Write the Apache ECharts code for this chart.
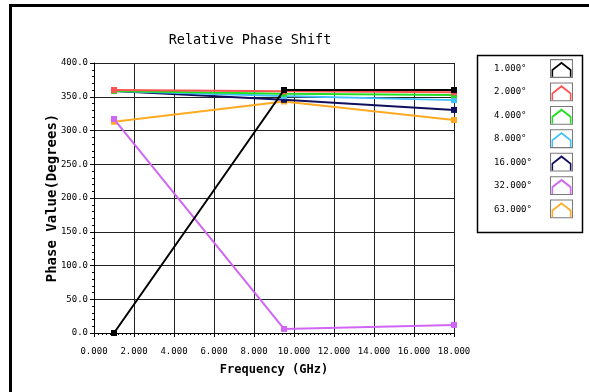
<!DOCTYPE html>
<html>
<head>
<meta charset="utf-8">
<script src="https://cdn.jsdelivr.net/npm/echarts@6/dist/echarts.min.js"></script>
<style>
  html, body { margin: 0; padding: 0; background: #fff; }
  #chart { width: 589px; height: 392px; }
</style>
</head>
<body>
<div id="chart"></div>
<script>
// frequencies where each trace was sampled (GHz)
const freqs = [1, 9.5, 18];
const seriesNames = ['1.000°', '2.000°', '4.000°', '8.000°', '16.000°', '32.000°', '63.000°'];
const seriesColors = ['#000000', '#ff5252', '#22e022', '#40c0ff', '#10105e', '#cf66f5', '#ffaa22'];
const phase1 = [0, 360, 360];
const phase2 = [360, 358, 356.5];
const phase4 = [358.5, 354.5, 352.5];
const phase8 = [358.5, 351, 345];
const phase16 = [358.5, 345.5, 330.5];
const phase32 = [317, 6, 12];
const phase63 = [313, 343, 315.5];
const allPhases = [phase1, phase2, phase4, phase8, phase16, phase32, phase63];
// drawing order: black on top, then red, the rest below
const seriesZ = [9, 8, 7, 6, 5, 4, 3];

const FONT = 'DejaVu Sans Mono';
// chevron inside a 22x18 cell; the two tiny specks at the corners keep the cell size
const chevron = 'path://M0,0 L0.01,0 L0.01,0.01 Z M22,18 L21.99,18 L21.99,17.99 Z ' +
  'M1.5,17 L1.5,10 L11,2.5 L20.5,10 L20.5,17 L19,17 L19,11 L11,4.8 L3,11 L3,17 Z';
// square outline (outer ring minus inner hole) for the grey icon frames
const frame = 'path://M0,0 L22,0 L22,18 L0,18 Z M1,1 L1,17 L21,17 L21,1 Z';

const chart = echarts.init(document.getElementById('chart'));

const series = seriesNames.map((name, i) => ({
  name: name,
  type: 'line',
  z: seriesZ[i],
  data: freqs.map((f, j) => [f, allPhases[i][j]]),
  symbol: 'rect',
  symbolSize: 6,
  showSymbol: true,
  lineStyle: { width: 2, color: seriesColors[i] },
  itemStyle: { color: seriesColors[i] },
  emphasis: { disabled: true }
}));

const legendCommon = {
  orient: 'vertical',
  top: 59,
  padding: 0,
  itemHeight: 19,
  itemGap: 4.5,
  selectedMode: false,
  data: seriesNames
};

chart.setOption({
  animation: false,
  backgroundColor: '#fff',
  title: {
    text: 'Relative Phase Shift',
    left: 245,
    textAlign: 'center',
    top: 28,
    textStyle: { fontFamily: FONT, fontSize: 13.5, fontWeight: 'normal', color: '#000' }
  },
  grid: { left: 94, right: 135, top: 63, bottom: 59 },
  legend: [
    Object.assign({}, legendCommon, {
      // labels only
      left: 489,
      itemWidth: 0,
      icon: 'rect',
      textStyle: { fontFamily: FONT, fontSize: 9, color: '#000' }
    }),
    Object.assign({}, legendCommon, {
      // grey frames
      left: 550,
      itemWidth: 23,
      icon: frame,
      itemStyle: { color: '#7a7a7a', borderWidth: 0 },
      formatter: () => '',
      textStyle: { fontSize: 1 },
      z: 4
    }),
    Object.assign({}, legendCommon, {
      // coloured chevrons
      left: 550,
      itemWidth: 23,
      icon: chevron,
      formatter: () => '',
      textStyle: { fontSize: 1 },
      z: 5
    })
  ],
  xAxis: {
    type: 'value',
    min: 0,
    max: 18,
    interval: 2,
    name: 'Frequency (GHz)',
    nameLocation: 'middle',
    nameGap: 31,
    nameMoveOverlap: false,
    nameTextStyle: { fontFamily: FONT, fontSize: 12, fontWeight: 'bold', color: '#000' },
    axisLine: { lineStyle: { color: '#000', width: 1 } },
    axisTick: { show: true, inside: false, length: 4, lineStyle: { color: '#000' } },
    minorTick: { show: true, splitNumber: 10, length: 2, lineStyle: { color: '#000' } },
    axisLabel: { fontFamily: FONT, fontSize: 9, color: '#000', margin: 14, formatter: v => v.toFixed(3) },
    splitLine: { show: true, lineStyle: { color: '#222', width: 1 } }
  },
  yAxis: {
    type: 'value',
    min: 0,
    max: 400,
    interval: 50,
    name: 'Phase Value(Degrees)',
    nameLocation: 'middle',
    nameGap: 35,
    nameMoveOverlap: false,
    nameRotate: 90,
    nameTextStyle: { fontFamily: FONT, fontSize: 14, fontWeight: 'bold', color: '#000' },
    axisLine: { show: true, lineStyle: { color: '#000', width: 1 } },
    axisTick: { show: true, inside: false, length: 4, lineStyle: { color: '#000' } },
    minorTick: { show: true, splitNumber: 5, length: 2, lineStyle: { color: '#000' } },
    axisLabel: { fontFamily: FONT, fontSize: 9, color: '#000', margin: 6, formatter: v => v.toFixed(1) },
    splitLine: { show: true, lineStyle: { color: '#222', width: 1 } }
  },
  graphic: [
    // heavy frame on top and left edges
    { type: 'rect', shape: { x: 9, y: 4, width: 580, height: 3 }, style: { fill: '#000' } },
    { type: 'rect', shape: { x: 9, y: 4, width: 3, height: 388 }, style: { fill: '#000' } },
    // legend box
    { type: 'rect', shape: { x: 477.5, y: 55.5, width: 105, height: 177 }, style: { fill: 'none', stroke: '#000', lineWidth: 1.5 } }
  ],
  series: series
});
</script>
</body>
</html>
